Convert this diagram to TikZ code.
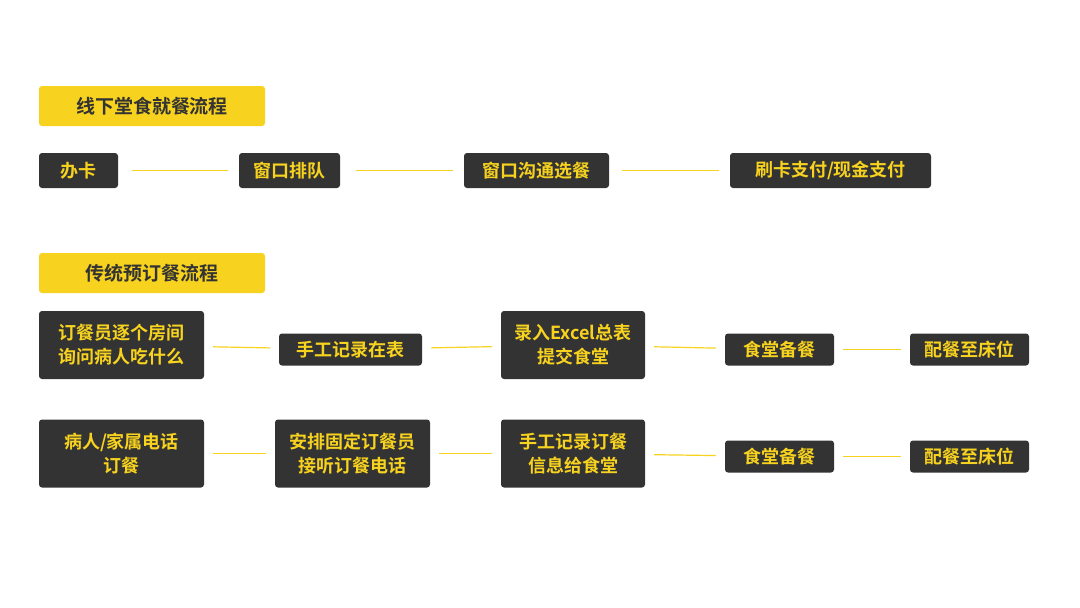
\documentclass[tikz,border=0pt]{standalone}
\usepackage{fontspec}
\setmainfont{Noto Sans CJK SC}[BoldFont={Noto Sans CJK SC Bold}]
\definecolor{boxdark}{HTML}{333333}
\definecolor{hiyel}{HTML}{F7D21E}
\tikzset{
  title/.style={fill=hiyel,rounded corners=3pt,text=boxdark,font=\fontsize{19}{22}\selectfont\bfseries,
    minimum width=226pt,minimum height=40pt,inner sep=0pt},
  stepbox/.style={fill=boxdark,rounded corners=3pt,text=hiyel,font=\fontsize{18}{24}\selectfont\bfseries,
    align=center,inner sep=0pt,minimum height=32pt},
  tall/.style={minimum height=68pt},
  link/.style={draw=hiyel,line width=1.2pt,shorten >=9pt,shorten <=9pt}
}
\begin{document}
\begin{tikzpicture}[x=1pt,y=-1pt]
\useasboundingbox (0,0) rectangle (1080,608);
% headers
\node[title] (t1) at (152,106) {线下堂食就餐流程};
\node[title] (t2) at (152,273) {传统预订餐流程};
% row 1
\node[stepbox,minimum width=79pt,minimum height=35pt] (a1) at (78.5,170.5) {办卡};
\node[stepbox,minimum width=101pt,minimum height=35pt] (a2) at (289.5,170.5) {窗口排队};
\node[stepbox,minimum width=145pt,minimum height=35pt] (a3) at (536.5,170.5) {窗口沟通选餐};
\node[stepbox,minimum width=201pt,minimum height=35pt] (a4) at (830.5,170.5) {刷卡支付/现金支付};
\draw[link,shorten <=14pt,shorten >=11pt] (a1) -- (a2);
\draw[link,shorten <=16pt,shorten >=11pt] (a2) -- (a3);
\draw[link,shorten <=13pt,shorten >=11pt] (a3) -- (a4);
% row 2
\node[stepbox,tall,minimum width=165pt] (b1) at (121.5,345) {订餐员逐个房间\\询问病人吃什么};
\node[stepbox,minimum width=143pt] (b2) at (350.5,349.5) {手工记录在表};
\node[stepbox,tall,minimum width=144pt] (b3) at (573,345) {录入Excel总表\\提交食堂};
\node[stepbox,minimum width=109pt] (b4) at (779.5,349.5) {食堂备餐};
\node[stepbox,minimum width=119pt] (b5) at (969.5,349.5) {配餐至床位};
\draw[link] (b1) -- (b2);
\draw[link] (b2) -- (b3);
\draw[link] (b3) -- (b4);
\draw[link] (b4) -- (b5);
% row 3
\node[stepbox,tall,minimum width=165pt] (c1) at (121.5,453.5) {病人/家属电话\\订餐};
\node[stepbox,tall,minimum width=155pt] (c2) at (352.5,453.5) {安排固定订餐员\\接听订餐电话};
\node[stepbox,tall,minimum width=144pt] (c3) at (573,453.5) {手工记录订餐\\信息给食堂};
\node[stepbox,minimum width=109pt] (c4) at (779.5,456.5) {食堂备餐};
\node[stepbox,minimum width=119pt] (c5) at (969.5,456.5) {配餐至床位};
\draw[link] (c1) -- (c2);
\draw[link] (c2) -- (c3);
\draw[link] (c3) -- (c4);
\draw[link] (c4) -- (c5);
\end{tikzpicture}
\end{document}
